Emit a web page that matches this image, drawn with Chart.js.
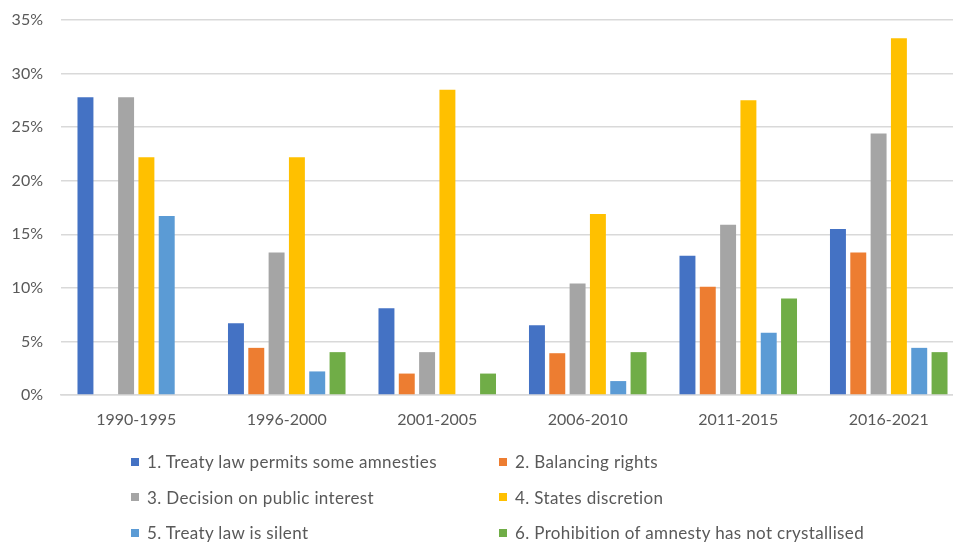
<!DOCTYPE html>
<html>
<head>
<meta charset="utf-8">
<script src="https://cdn.jsdelivr.net/npm/chart.js@4.4.1/dist/chart.umd.min.js"></script>
<style>
  html, body { margin: 0; padding: 0; background: #fff; overflow: hidden; }
  #wrap { position: relative; width: 968px; height: 543px; }
  #chart { position: absolute; left: 0; top: 0; }
  #legend {
    position: absolute; left: 131px; top: 444px;
    display: grid; grid-template-columns: 368px auto; grid-auto-rows: 35.5px;
    font-family: Lato, "Liberation Sans", sans-serif; font-size: 17px; letter-spacing: 0.35px; color: #595959;
  }
  .item { display: flex; align-items: center; white-space: nowrap; }
  .swatch { width: 8px; height: 8px; margin-right: 8px; flex: none; }
</style>
</head>
<body>
<div id="wrap">
  <canvas id="chart" width="968" height="543"></canvas>
  <div id="legend"></div>
</div>
<script>
// Share of judgments citing each argument, by period (%)
const periods = ['1990-1995', '1996-2000', '2001-2005', '2006-2010', '2011-2015', '2016-2021'];

const treatyPermits   = [27.8, 6.7, 8.1, 6.5, 13.0, 15.5];
const balancingRights = [0, 4.4, 2.0, 3.9, 10.1, 13.3];
const publicInterest  = [27.8, 13.3, 4.0, 10.4, 15.9, 24.4];
const statesDiscretion = [22.2, 22.2, 28.5, 16.9, 27.5, 33.3];
const treatySilent    = [16.7, 2.2, 0, 1.3, 5.8, 4.4];
const notCrystallised = [0, 4.0, 2.0, 4.0, 9.0, 4.0];

const seriesNames = [
  '1. Treaty law permits some amnesties',
  '2. Balancing rights',
  '3. Decision on public interest',
  '4. States discretion',
  '5. Treaty law is silent',
  '6. Prohibition of amnesty has not crystallised'
];

const yTicks = [0, 5, 10, 15, 20, 25, 30, 35];

const colors = ['#4472C4', '#ED7D31', '#A5A5A5', '#FFC000', '#5B9BD5', '#70AD47'];
const seriesValues = [treatyPermits, balancingRights, publicInterest, statesDiscretion, treatySilent, notCrystallised];

const datasets = seriesValues.map((vals, i) => ({
  label: seriesNames[i],
  data: vals,
  backgroundColor: colors[i],
  borderWidth: 0,
  categoryPercentage: 0.81,
  barPercentage: 0.785
}));

const font = { family: 'Lato, "Liberation Sans", sans-serif', size: 16 };

const chart = new Chart(document.getElementById('chart'), {
  type: 'bar',
  data: { labels: periods, datasets },
  options: {
    responsive: false,
    animation: false,
    layout: { padding: { top: 20, right: 4, bottom: 108, left: 0 } },
    plugins: { legend: { display: false }, tooltip: { enabled: false } },
    scales: {
      x: {
        grid: { display: false, drawTicks: false },
        border: { display: true, color: '#d9d9d9', width: 1.5 },
        ticks: { color: '#595959', font, padding: 15, maxRotation: 0 },
        afterFit: s => { s.height = 40; }
      },
      y: {
        min: 0, max: 35,
        afterBuildTicks: s => { s.ticks = yTicks.map(v => ({ value: v })); },
        grid: { color: '#d9d9d9', lineWidth: 1.5, drawTicks: false },
        border: { display: false },
        ticks: { color: '#595959', font, padding: 18, callback: v => v + '%' },
        afterFit: s => { s.width = 61; s.paddingTop = 0; s.paddingBottom = 0; }
      }
    }
  }
});

// Two-column legend built from the chart's datasets
const legend = document.getElementById('legend');
chart.data.datasets.forEach(ds => {
  const item = document.createElement('div');
  item.className = 'item';
  const sw = document.createElement('span');
  sw.className = 'swatch';
  sw.style.background = ds.backgroundColor;
  const tx = document.createElement('span');
  tx.textContent = ds.label;
  item.appendChild(sw);
  item.appendChild(tx);
  legend.appendChild(item);
});
</script>
</body>
</html>
